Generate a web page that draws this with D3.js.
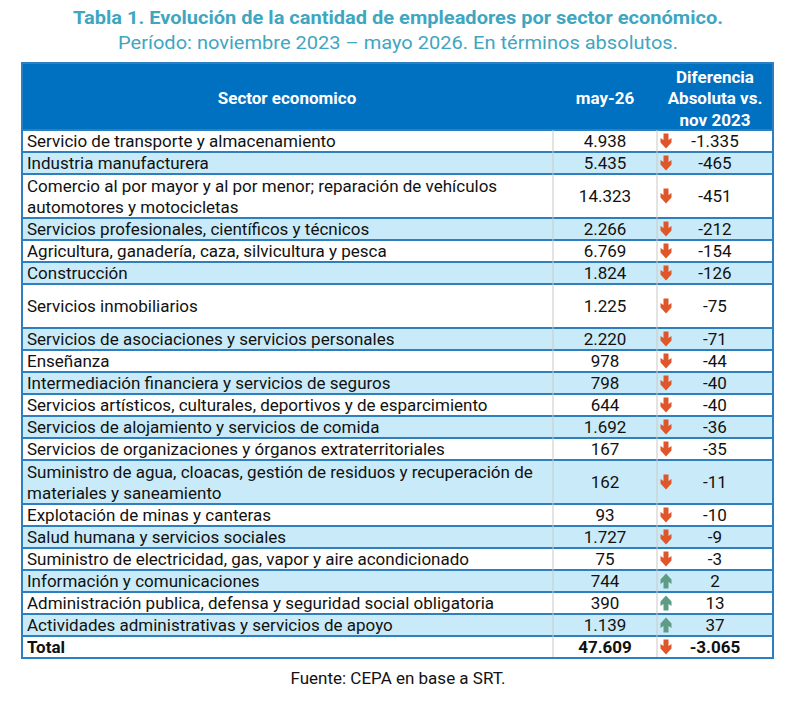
<!DOCTYPE html>
<html>
<head>
<meta charset="utf-8">
<script src="https://cdn.jsdelivr.net/npm/d3@7"></script>
<style>
    body { margin: 0; background: #fff; }
    svg text { font-family: Roboto, "Noto Sans", sans-serif; }
</style>
</head>
<body>
<div id="chart"></div>
<script>
const sectors = [
    "Servicio de transporte y almacenamiento",
    "Industria manufacturera",
    "Comercio al por mayor y al por menor; reparación de vehículos\nautomotores y motocicletas",
    "Servicios profesionales, científicos y técnicos",
    "Agricultura, ganadería, caza, silvicultura y pesca",
    "Construcción",
    "Servicios inmobiliarios",
    "Servicios de asociaciones y servicios personales",
    "Enseñanza",
    "Intermediación financiera y servicios de seguros",
    "Servicios artísticos, culturales, deportivos y de esparcimiento",
    "Servicios de alojamiento y servicios de comida",
    "Servicios de organizaciones y órganos extraterritoriales",
    "Suministro de agua, cloacas, gestión de residuos y recuperación de\nmateriales y saneamiento",
    "Explotación de minas y canteras",
    "Salud humana y servicios sociales",
    "Suministro de electricidad, gas, vapor y aire acondicionado",
    "Información y comunicaciones",
    "Administración publica, defensa y seguridad social obligatoria",
    "Actividades administrativas y servicios de apoyo"
];
const may26 = [4938, 5435, 14323, 2266, 6769, 1824, 1225, 2220, 978, 798, 644, 1692, 167, 162, 93, 1727, 75, 744, 390, 1139];
const diffNov23 = [-1335, -465, -451, -212, -154, -126, -75, -71, -44, -40, -40, -36, -35, -11, -10, -9, -3, 2, 13, 37];
const totalLabel = "Total";
const totalMay26 = 47609;
const totalDiff = -3065;
const headers = ["Sector economico", "may-26", "Diferencia\nAbsoluta vs.\nnov 2023"];

// Rows drawn double height in the original even with one line of text
const tallRows = ["Servicios inmobiliarios"];

const es = d3.formatLocale({ decimal: ",", thousands: ".", grouping: [3], currency: ["$", ""], minus: "-" });
const fmt = es.format(",d");

const width = 798, height = 707;
const left = 22, right = 773, headTop = 63, bodyTop = 130;
const fs = 17;

const svg = d3.select("#chart").append("svg")
    .attr("width", width)
    .attr("height", height);

// Title
svg.append("text")
    .attr("x", 398).attr("y", 24)
    .attr("text-anchor", "middle")
    .attr("fill", "#3fa6c1")
    .attr("font-size", 19).attr("font-weight", 700)
    .attr("textLength", 650).attr("lengthAdjust", "spacingAndGlyphs")
    .text("Tabla 1. Evolución de la cantidad de empleadores por sector económico.");

svg.append("text")
    .attr("x", 398).attr("y", 49)
    .attr("text-anchor", "middle")
    .attr("fill", "#3fa6c1")
    .attr("font-size", 18)
    .attr("textLength", 560).attr("lengthAdjust", "spacingAndGlyphs")
    .text("Período: noviembre 2023 – mayo 2026. En términos absolutos.");

// Rows: body rows plus total
const rows = sectors.map((s, i) => ({
    lines: s.split("\n"),
    value: may26[i],
    diff: diffNov23[i],
    bold: false
}));
rows.push({ lines: [totalLabel], value: totalMay26, diff: totalDiff, bold: true });

let acc = 0;
rows.forEach(r => {
    r.units = (r.lines.length > 1 || tallRows.includes(r.lines[0])) ? 2 : 1;
    r.start = acc;
    acc += r.units;
});

// y in row units
const y = d3.scaleLinear().domain([0, acc]).range([bodyTop, 658]);

// column edges
const colX = d3.scaleOrdinal().domain(["left", "c1", "c2", "right"]).range([left, 553, 657, right]);

// Header
svg.append("rect")
    .attr("x", left).attr("y", headTop)
    .attr("width", right - left).attr("height", bodyTop - headTop)
    .attr("fill", "#0070c0");

const headCenters = [287, 605, 715];
headers.forEach((h, i) => {
    const lines = h.split("\n");
    const t = svg.append("text")
        .attr("text-anchor", "middle")
        .attr("fill", "#fff")
        .attr("font-size", fs).attr("font-weight", 700);
    lines.forEach((l, j) => {
        t.append("tspan")
            .attr("x", headCenters[i])
            .attr("y", 104 + (j - (lines.length - 1) / 2) * 21.5)
            .text(l);
    });
});

// Body
const body = svg.append("g");

const row = body.selectAll(".row")
    .data(rows)
    .enter()
    .append("g").classed("row", true);

row.append("rect")
    .attr("x", left)
    .attr("y", d => y(d.start))
    .attr("width", right - left)
    .attr("height", d => y(d.start + d.units) - y(d.start))
    .attr("fill", (d, i) => i % 2 ? "#c9ebf9" : "#fff");

// vertical inner lines
["c1", "c2"].forEach(c => {
    body.append("line")
        .attr("x1", colX(c)).attr("x2", colX(c))
        .attr("y1", bodyTop).attr("y2", y(acc))
        .attr("stroke", "#c8c8c8").attr("stroke-width", 1);
});

// horizontal lines
row.append("line")
    .attr("x1", left).attr("x2", right)
    .attr("y1", d => y(d.start)).attr("y2", d => y(d.start))
    .attr("stroke", "#2e7fc0").attr("stroke-width", 2);

row.each(function(d) {
    const g = d3.select(this);
    const mid = (y(d.start) + y(d.start + d.units)) / 2;
    const weight = d.bold ? 700 : 400;

    const t = g.append("text")
        .attr("fill", "#111")
        .attr("font-size", fs).attr("font-weight", weight);
    d.lines.forEach((l, j) => {
        t.append("tspan")
            .attr("x", left + 5)
            .attr("y", mid + 6 + (j - (d.lines.length - 1) / 2) * 21)
            .text(l);
    });

    g.append("text")
        .attr("x", 605).attr("y", mid + 6)
        .attr("text-anchor", "middle")
        .attr("fill", "#111")
        .attr("font-size", fs).attr("font-weight", weight)
        .text(fmt(d.value));

    g.append("text")
        .attr("x", 715).attr("y", mid + 6)
        .attr("text-anchor", "middle")
        .attr("fill", "#111")
        .attr("font-size", fs).attr("font-weight", weight)
        .text(fmt(d.diff));

    // arrow icon: down red, up green
    const up = d.diff > 0;
    g.append("path")
        .attr("transform", `translate(666,${mid}) scale(1,${up ? -1 : 1})`)
        .attr("d", "M-2.5,-7.5 L2.5,-7.5 L2.5,-1 L5.5,-3 L5.5,1.5 L0,7.5 L-5.5,1.5 L-5.5,-3 L-2.5,-1 Z")
        .attr("fill", up ? "#5e9c86" : "#df562b");
});

// outer border
svg.append("rect")
    .attr("x", left).attr("y", headTop)
    .attr("width", right - left).attr("height", y(acc) - headTop)
    .attr("fill", "none")
    .attr("stroke", "#2e7fc0").attr("stroke-width", 2);

// Source
svg.append("text")
    .attr("x", 398).attr("y", 684)
    .attr("text-anchor", "middle")
    .attr("fill", "#111")
    .attr("font-size", fs)
    .text("Fuente: CEPA en base a SRT.");
</script>
</body>
</html>
